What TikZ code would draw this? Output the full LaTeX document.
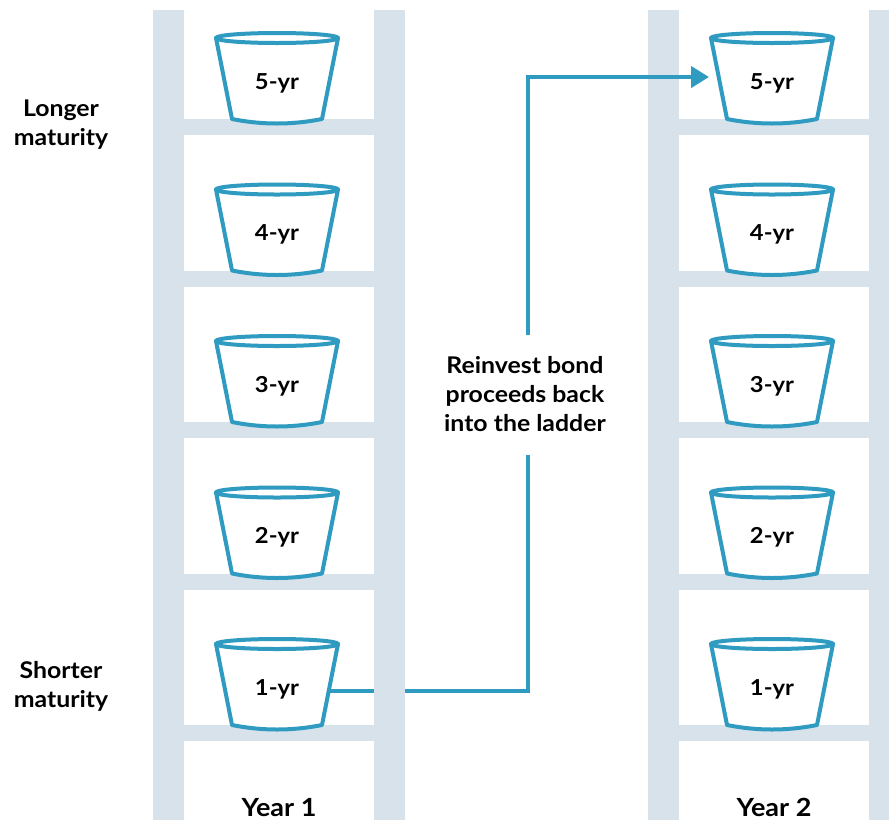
\documentclass[tikz,border=0pt]{standalone}
\usepackage{fontspec}
\setmainfont{Lato}[FakeStretch=1.08]
\usetikzlibrary{arrows.meta,calc}
\definecolor{railc}{HTML}{D8E2EA}
\definecolor{bluec}{HTML}{2F9BC1}
\tikzset{
  rail/.style={fill=railc, draw=none},
  bucketline/.style={draw=bluec, line width=4pt, line join=round, fill=white},
  lbl/.style={font=\fontsize{23}{28.8}\selectfont\bfseries, text=black, inner sep=0pt, align=center},
  blbl/.style={font=\fontsize{22}{26}\selectfont\bfseries, text=black, inner sep=0pt},
  ylbl/.style={font=\fontsize{25}{29}\selectfont\bfseries, text=black, inner sep=0pt, anchor=base},
  flow/.style={draw=bluec, line width=4.2pt},
}
% \mybucket{name}{cx}{k}{label}
\newcommand{\mybucket}[4]{%
  \pgfmathsetmacro{\ty}{38+151.5*#3}%
  \pgfmathsetmacro{\by}{119+151.5*#3}%
  \draw[bucketline] (#2-61,\ty) -- (#2-45,\by) .. controls (#2-15,\by+6) and (#2+15,\by+6) .. (#2+45,\by) -- (#2+61,\ty) -- cycle;
  \draw[bucketline] (#2,\ty) ellipse[x radius=61, y radius=5];
  \node[blbl] (#1) at (#2,\ty+45) {#4};
}
\begin{document}
\begin{tikzpicture}[x=1pt,y=-1pt]
\useasboundingbox (0,0) rectangle (889,820);
\fill[white] (0,0) rectangle (889,820);
% coordinates of the connector
\coordinate (c1) at (528,691);
\coordinate (c2) at (528,455);
\coordinate (c3) at (528,335);
\coordinate (c4) at (528,77);
\coordinate (b1r) at (329,691);
\coordinate (tip) at (709,77);
% lower part of connector (passes behind the rail)
\draw[flow] (b1r) -- (c1) -- (c2);
% ladders
\foreach \lx in {153,648}{
  \fill[rail] (\lx,10) rectangle (\lx+31,820);
  \fill[rail] (\lx+221,10) rectangle (\lx+252,820);
  \foreach \k in {0,...,4}{
    \fill[rail] (\lx,119+151.5*\k) rectangle (\lx+252,135+151.5*\k);
  }
}
% buckets left
\mybucket{a5}{277}{0}{5-yr}
\mybucket{a4}{277}{1}{4-yr}
\mybucket{a3}{277}{2}{3-yr}
\mybucket{a2}{277}{3}{2-yr}
\mybucket{a1}{277}{4}{1-yr}
% buckets right
\mybucket{b5}{772}{0}{5-yr}
\mybucket{b4}{772}{1}{4-yr}
\mybucket{b3}{772}{2}{3-yr}
\mybucket{b2}{772}{3}{2-yr}
\mybucket{b1}{772}{4}{1-yr}
% upper part of connector
\draw[flow, -{Triangle[length=18pt,width=21pt]}] (c3) -- (c4) -- (tip);
% labels
\node[lbl] (reinvest) at (525,394) {Reinvest bond\\proceeds back\\into the ladder};
\node[lbl] (longer) at (61,125) {Longer\\maturity};
\node[lbl] (shorter) at (61,686) {Shorter\\maturity};
\node[ylbl] (y1) at (279,816) {Year 1};
\node[ylbl] (y2) at (774,816) {Year 2};
\end{tikzpicture}
\end{document}
